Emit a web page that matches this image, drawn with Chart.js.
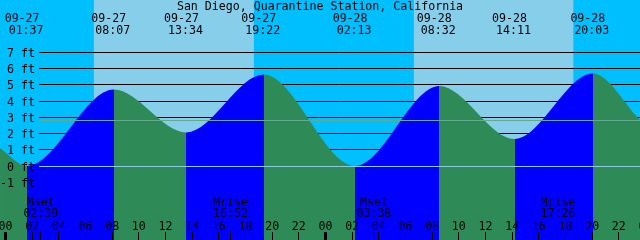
<!DOCTYPE html>
<html lang="en">
<head>
<meta charset="UTF-8">
<title>San Diego, Quarantine Station, California - tides</title>
<script src="https://cdn.jsdelivr.net/npm/chart.js"></script>
<style>
  body { margin: 0; background: #00bfff; }
  #box { width: 640px; height: 240px; }
</style>
</head>
<body>
<div id="box"><canvas id="tideChart" width="640" height="240"></canvas></div>
<script>
// all times are hours counted from 09-27 00:00
const startHour = -0.41, startFeet = 1.1;
const endHour = 47.59, endFeet = 2.83;
const extremeHours = [1.62, 8.12, 13.57, 19.37, 26.22, 32.53, 38.18, 44.05];
const extremeFeet  = [0.0, 4.71, 2.07, 5.63, 0.0, 4.93, 1.66, 5.69];
const extremeDates = ['09-27', '09-27', '09-27', '09-27', '09-28', '09-28', '09-28', '09-28'];
const extremeTimes = ['01:37', '08:07', '13:34', '19:22', '02:13', '08:32', '14:11', '20:03'];

const sunriseHours = [6.63, 30.63];
const sunsetHours  = [18.63, 42.59];

const moonHours = [2.65, 16.87, 27.63, 41.43];
const moonNames = ['Mset', 'Mrise', 'Mset', 'Mrise'];
const moonTimes = ['02:39', '16:52', '03:38', '17:26'];

const footLevels = [7, 6, 5, 4, 3, 2, 1, 0, -1];
const meanLevel = 2.83;
const hourTicks = [0, 2, 4, 6, 8, 10, 12, 14, 16, 18, 20, 22, 24, 26, 28, 30, 32, 34, 36, 38, 40, 42, 44, 46, 48];
const hourLabels = ['00', '02', '04', '06', '08', '10', '12', '14', '16', '18', '20', '22',
                    '00', '02', '04', '06', '08', '10', '12', '14', '16', '18', '20', '22', '00'];

const title = 'San Diego, Quarantine Station, California';

const DAY = '#87ceeb', NIGHT = '#00bfff';
const RISE = '#0000ff', FALL = '#2e8b57';
const FONT = '11.6px "DejaVu Sans Mono", monospace';

const curveHours = [startHour].concat(extremeHours, [endHour]);
const curveFeet = [startFeet].concat(extremeFeet, [endFeet]);

// blue while rising, green while falling, hard switch at every high / low
function tideFill(context) {
  const chart = context.chart;
  const area = chart.chartArea;
  if (!area) return RISE;
  const xs = chart.scales.x;
  const g = chart.ctx.createLinearGradient(area.left, 0, area.right, 0);
  let colour = extremeFeet[0] < extremeFeet[1] ? FALL : RISE;
  g.addColorStop(0, colour);
  extremeHours.forEach(h => {
    let off = (xs.getPixelForValue(h) - area.left) / (area.right - area.left);
    off = Math.min(1, Math.max(0, off));
    g.addColorStop(off, colour);
    colour = colour === RISE ? FALL : RISE;
    g.addColorStop(off, colour);
  });
  g.addColorStop(1, colour);
  return g;
}

const tideDecor = {
  id: 'tideDecor',
  beforeDatasetsDraw(chart) {
    const { ctx, chartArea: a, scales: { x, y } } = chart;
    ctx.save();
    ctx.fillStyle = NIGHT;
    ctx.fillRect(a.left, a.top, a.width, a.height);
    ctx.fillStyle = DAY;
    sunriseHours.forEach((r, i) => {
      const x0 = x.getPixelForValue(r), x1 = x.getPixelForValue(sunsetHours[i]);
      ctx.fillRect(x0, a.top, x1 - x0, a.height);
    });
    ctx.strokeStyle = '#000';
    ctx.lineWidth = 1;
    footLevels.filter(f => f > 0).forEach(f => {
      const py = Math.floor(y.getPixelForValue(f)) + 0.5;
      ctx.beginPath();
      ctx.moveTo(39, py);
      ctx.lineTo(a.right, py);
      ctx.stroke();
    });
    ctx.restore();
  },
  afterDatasetsDraw(chart) {
    const { ctx, chartArea: a, scales: { x, y } } = chart;
    ctx.save();
    ctx.lineWidth = 1;
    // datum and mean level lines go over the water
    let py = Math.floor(y.getPixelForValue(0)) + 0.5;
    ctx.strokeStyle = '#8ccbe6';
    ctx.beginPath(); ctx.moveTo(39, py); ctx.lineTo(a.right, py); ctx.stroke();
    py = Math.floor(y.getPixelForValue(meanLevel)) + 0.5;
    ctx.strokeStyle = '#66a88c';
    ctx.beginPath(); ctx.moveTo(39, py); ctx.lineTo(a.right, py); ctx.stroke();

    ctx.fillStyle = '#000';
    ctx.font = FONT;

    ctx.textAlign = 'right';
    footLevels.forEach(f => {
      ctx.fillText(f + ' ft', 35, y.getPixelForValue(f) + 4.5);
    });

    ctx.textAlign = 'center';
    ctx.fillText(title, 320, 10);
    extremeHours.forEach((h, i) => {
      const px = x.getPixelForValue(h);
      ctx.fillText(extremeDates[i], px - 5, 22);
      ctx.fillText(extremeTimes[i], px - 1, 34);
    });

    moonHours.forEach((h, i) => {
      const px = x.getPixelForValue(h);
      ctx.fillText(moonNames[i], px, 206);
      ctx.fillText(moonTimes[i], px, 217);
      ctx.fillRect(Math.floor(px), 232, 1, 8);
    });

    hourTicks.forEach((h, i) => {
      const px = x.getPixelForValue(h);
      ctx.fillText(hourLabels[i], px, 230);
      if (h % 24 === 0) ctx.fillRect(Math.floor(px) - 1, 232, 3, 8);
      else ctx.fillRect(Math.floor(px), 232, 1, 8);
    });
    ctx.restore();
  }
};

new Chart(document.getElementById('tideChart'), {
  type: 'line',
  data: {
    datasets: [{
      data: curveHours.map((h, i) => ({ x: h, y: curveFeet[i] })),
      fill: 'start',
      backgroundColor: tideFill,
      borderWidth: 0,
      borderColor: 'rgba(0,0,0,0)',
      pointRadius: 0,
      cubicInterpolationMode: 'monotone'
    }]
  },
  options: {
    responsive: false,
    animation: false,
    events: [],
    layout: { padding: 0 },
    plugins: { legend: { display: false }, tooltip: { enabled: false } },
    scales: {
      x: { type: 'linear', display: false, min: -0.4125, max: 47.5875 },
      y: { type: 'linear', display: false, min: -4.5566, max: 10.2217 }
    }
  },
  plugins: [tideDecor]
});
</script>
</body>
</html>
